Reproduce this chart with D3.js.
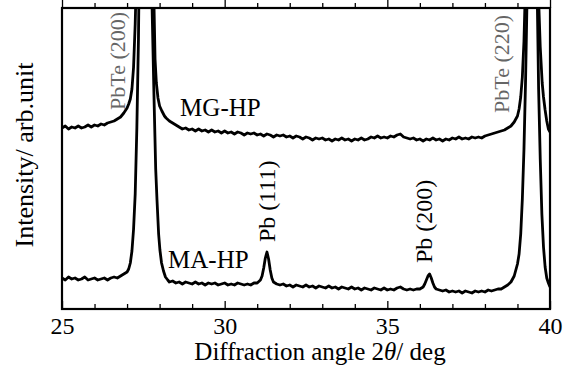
<!DOCTYPE html>
<html>
<head>
<meta charset="utf-8">
<script src="https://cdn.jsdelivr.net/npm/d3@7"></script>
<style>
  body { margin: 0; background: #fff; }
  svg text { font-family: "Liberation Serif", "Times New Roman", serif; }
</style>
</head>
<body>
<div id="chart"></div>
<script>
// XRD patterns, [2theta (deg), intensity (arb.)]
var maHP = [
  [25.0,31],[25.1,29],[25.2,32],[25.3,30],[25.4,31],[25.5,29],[25.6,30],[25.7,32],[25.8,29],[25.9,30],
  [26.0,31],[26.1,29],[26.2,30],[26.3,31],[26.4,29],[26.5,31],[26.6,32],[26.7,31],[26.8,33],[26.9,35],
  [27.0,37],[27.05,40],[27.1,46],[27.15,58],[27.2,80],[27.25,115],[27.3,180],[27.35,270],[27.4,420],
  [27.5,1000],[27.57,1600],[27.65,1000],[27.72,420],[27.77,300],[27.83,209],[27.88,140],[27.92,109],
  [27.97,75],[28.01,59],[28.06,46],[28.12,38],[28.18,32],[28.25,29],[28.3,27],[28.4,28],[28.5,26],
  [28.6,27],[28.7,25],[28.8,27],[28.9,26],[29.0,25],[29.1,27],[29.2,25],[29.3,26],[29.4,24],[29.5,26],
  [29.6,25],[29.7,26],[29.8,24],[29.9,25],[30.0,26],[30.1,24],[30.2,25],[30.3,24],[30.4,26],[30.5,25],
  [30.6,24],[30.7,25],[30.8,24],[30.9,26],[31.0,26],[31.1,29],[31.15,33],[31.2,41],[31.25,51],[31.3,57],
  [31.35,50],[31.4,39],[31.45,31],[31.5,27],[31.6,25],[31.7,24],[31.8,25],[31.9,23],[32.0,24],[32.1,22],
  [32.2,24],[32.3,23],[32.4,22],[32.5,24],[32.6,22],[32.7,23],[32.8,21],[32.9,23],[33.0,22],[33.1,21],
  [33.2,23],[33.3,21],[33.4,22],[33.5,20],[33.6,22],[33.7,21],[33.8,20],[33.9,22],[34.0,20],[34.1,21],
  [34.2,19],[34.3,21],[34.4,20],[34.5,19],[34.6,21],[34.7,20],[34.8,19],[34.9,21],[35.0,19],[35.1,20],
  [35.2,19],[35.3,21],[35.4,22],[35.5,20],[35.6,19],[35.7,20],[35.8,19],[35.9,20],[36.0,20],[36.1,22],
  [36.15,25],[36.2,29],[36.25,33],[36.3,35],[36.35,31],[36.4,26],[36.45,22],[36.5,20],[36.6,19],[36.7,18],
  [36.8,19],[36.9,17],[37.0,18],[37.1,17],[37.2,18],[37.3,16],[37.4,18],[37.5,17],[37.6,16],[37.7,18],
  [37.8,17],[37.9,18],[38.0,17],[38.1,19],[38.2,18],[38.3,19],[38.4,20],[38.5,20],[38.6,22],[38.7,24],
  [38.8,27],[38.9,33],[39.0,45],[39.05,55],[39.1,75],[39.15,110],[39.2,160],[39.25,230],[39.3,320],
  [39.35,480],[39.45,1600],[39.55,520],[39.6,330],[39.65,220],[39.7,150],[39.75,95],[39.8,62],[39.85,42],
  [39.9,31],[39.95,26],[40.0,22]
];

var mgHP = [
  [25.0,181],[25.1,183],[25.2,180],[25.3,182],[25.4,181],[25.5,183],[25.6,181],[25.7,182],[25.8,184],[25.9,182],
  [26.0,184],[26.1,183],[26.2,185],[26.3,184],[26.4,186],[26.5,187],[26.6,188],[26.7,190],[26.8,192],[26.9,196],
  [27.0,201],[27.05,205],[27.1,210],[27.15,220],[27.2,242],[27.25,285],[27.3,350],[27.4,600],[27.57,1700],
  [27.72,600],[27.78,400],[27.83,300],[27.86,250],[27.9,226],[27.95,211],[28.0,203],[28.07,198],[28.15,193],
  [28.2,191],[28.3,188],[28.4,186],[28.5,184],[28.6,182],[28.7,180],[28.8,181],[28.9,179],[29.0,180],[29.1,178],
  [29.2,180],[29.3,178],[29.4,179],[29.5,177],[29.6,179],[29.7,177],[29.8,178],[29.9,176],[30.0,178],[30.1,176],
  [30.2,177],[30.3,175],[30.4,177],[30.5,176],[30.6,174],[30.7,176],[30.8,175],[30.9,176],[31.0,174],[31.1,175],
  [31.2,173],[31.3,175],[31.4,174],[31.5,172],[31.6,174],[31.7,173],[31.8,174],[31.9,172],[32.0,173],[32.1,171],
  [32.2,173],[32.3,172],[32.4,170],[32.5,172],[32.6,171],[32.7,169],[32.8,171],[32.9,170],[33.0,171],[33.1,169],
  [33.2,170],[33.3,168],[33.4,170],[33.5,169],[33.6,171],[33.7,169],[33.8,170],[33.9,168],[34.0,170],[34.1,169],
  [34.2,171],[34.3,169],[34.4,170],[34.5,172],[34.6,171],[34.7,173],[34.8,171],[34.9,172],[35.0,171],[35.1,173],
  [35.2,172],[35.3,174],[35.4,175],[35.5,172],[35.6,171],[35.7,170],[35.8,171],[35.9,169],[36.0,170],[36.1,168],
  [36.2,170],[36.3,169],[36.4,171],[36.5,169],[36.6,170],[36.7,168],[36.8,170],[36.9,169],[37.0,171],[37.1,170],
  [37.2,172],[37.3,170],[37.4,171],[37.5,170],[37.6,172],[37.7,171],[37.8,172],[37.9,171],[38.0,173],[38.1,174],
  [38.2,175],[38.3,176],[38.4,177],[38.5,178],[38.6,179],[38.7,181],[38.8,183],[38.9,187],[39.0,193],[39.05,200],
  [39.1,212],[39.15,232],[39.2,268],[39.25,330],[39.3,430],[39.45,1700],[39.6,430],[39.65,310],[39.7,262],
  [39.76,226],[39.8,212],[39.85,199],[39.9,188],[39.95,180],[40.0,177]
];

var xTicks = [25, 30, 35, 40];
var xMinor = [26, 27, 28, 29, 31, 32, 33, 34, 36, 37, 38, 39];

var serif = "'Liberation Serif', 'Times New Roman', serif";

// set the dimensions and margins
var W = 563, H = 368;
var margin = {top: 8, right: 13, bottom: 59, left: 62},
    width = W - margin.left - margin.right,
    height = H - margin.top - margin.bottom;

var svg = d3.select("#chart")
  .append("svg")
    .attr("width", W)
    .attr("height", H)
  .append("g")
    .attr("transform", "translate(" + margin.left + "," + margin.top + ")");

var x = d3.scaleLinear().domain([25, 40]).range([0, width]);
var y = d3.scaleLinear().domain([0, 301]).range([height, 0]);

svg.append("clipPath").attr("id", "clip")
  .append("rect").attr("width", width).attr("height", height);

// curves
var line = d3.line()
  .x(function(d) { return x(d[0]); })
  .y(function(d) { return y(d[1]); });

[mgHP, maHP].forEach(function(s) {
  svg.append("path")
    .datum(s)
    .attr("clip-path", "url(#clip)")
    .attr("fill", "none")
    .attr("stroke", "#000")
    .attr("stroke-width", 2.8)
    .attr("stroke-linejoin", "round")
    .attr("d", line);
});

// ticks, inward on bottom and top
function tickAxis(axis, size, ty, vals) {
  var g = svg.append("g")
    .attr("transform", "translate(0," + ty + ")")
    .call(axis(x).tickValues(vals).tickSizeInner(size).tickSizeOuter(0).tickPadding(8).tickFormat(d3.format("d")));
  g.select(".domain").remove();
  g.selectAll("line").attr("stroke", "#000").attr("stroke-width", 1.3);
  return g;
}
tickAxis(d3.axisBottom, -5, height, xMinor).selectAll("text").remove();
tickAxis(d3.axisTop, 5, 0, xMinor).selectAll("text").remove();
tickAxis(d3.axisTop, 8, 0, xTicks).selectAll("text").remove();
tickAxis(d3.axisBottom, -8, height, xTicks).selectAll("text")
  .attr("font-size", "24px")
  .attr("font-family", serif)
  .attr("fill", "#000");

// frame
svg.append("rect")
  .attr("width", width)
  .attr("height", height)
  .attr("fill", "none")
  .attr("stroke", "#000")
  .attr("stroke-width", 2.2);

// axis titles
var xt = svg.append("text")
  .attr("x", 258)
  .attr("y", 352)
  .attr("text-anchor", "middle")
  .attr("font-family", serif)
  .attr("font-size", "25px");
xt.append("tspan").text("Diffraction angle 2");
xt.append("tspan").attr("font-style", "italic").text("θ");
xt.append("tspan").text("/ deg");

svg.append("text")
  .attr("transform", "translate(-29,147)rotate(-90)")
  .attr("text-anchor", "middle")
  .attr("font-family", serif)
  .attr("font-size", "26px")
  .text("Intensity/  arb.unit");

// annotations
function note(txt, a, v, size, col, rot) {
  svg.append("text")
    .attr("transform", "translate(" + x(a) + "," + y(v) + ")" + (rot ? "rotate(-90)" : ""))
    .attr("font-family", serif)
    .attr("font-size", size + "px")
    .attr("fill", col)
    .text(txt);
}
note("MG-HP", 28.63, 193, 25, "#000", false);
note("MA-HP", 28.26, 41, 25, "#000", false);
note("PbTe (200)", 26.94, 199, 22, "#666", true);
note("PbTe (220)", 38.74, 196, 22, "#666", true);
note("Pb (111)", 31.55, 67, 24, "#000", true);
note("Pb (200)", 36.37, 46, 24, "#000", true);
</script>
</body>
</html>
